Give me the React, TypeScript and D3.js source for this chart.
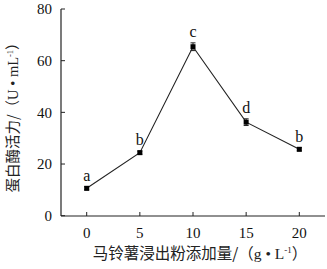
import React from "react";
import * as d3 from "d3";

const doses = [0, 5, 10, 15, 20];
const activity = [10.6, 24.4, 65.4, 36.2, 25.7];
const errors = [0.6, 0.6, 1.5, 1.3, 0.6];
const letters = ["a", "b", "c", "d", "b"];
const yTicks = [0, 20, 40, 60, 80];
const xTicks = [0, 5, 10, 15, 20];

const W = 327;
const H = 269;
const axisX = 61;
const axisY = 216;
const axisRight = 325;

const serif = "Liberation Serif, DejaVu Serif, serif";
const cjk = "Noto Sans CJK SC, sans-serif";

export default function App() {
  const x = d3.scaleLinear().domain([0, 20]).range([86.7, 299.3]);
  const y = d3.scaleLinear().domain([0, 80]).range([215.7, 9]);
  const line = d3
    .line<number>()
    .x((_, i) => x(doses[i]))
    .y((d) => y(d));
  const stroke = "#222";
  return (
    <svg
      width={W}
      height={H}
      style={{ position: "absolute", left: 0, top: 0, background: "#fff" }}
    >
      <line x1={axisX} y1={y(80)} x2={axisX} y2={axisY} stroke={stroke} strokeWidth={1.2} />
      <line x1={axisX} y1={axisY} x2={axisRight} y2={axisY} stroke={stroke} strokeWidth={1.2} />
      {yTicks.map((t) => (
        <g key={"y" + t}>
          <line x1={axisX} x2={axisX + 4} y1={y(t)} y2={y(t)} stroke={stroke} strokeWidth={1} />
          <text
            x={axisX - 9}
            y={y(t)}
            dy="0.35em"
            textAnchor="end"
            fontFamily={serif}
            fontSize={15}
            fill="#111"
          >
            {t}
          </text>
        </g>
      ))}
      {xTicks.map((t) => (
        <g key={"x" + t}>
          <line x1={x(t)} x2={x(t)} y1={axisY} y2={axisY - 4} stroke={stroke} strokeWidth={1} />
          <text
            x={x(t)}
            y={axisY + 17}
            dy="0.35em"
            textAnchor="middle"
            fontFamily={serif}
            fontSize={15}
            fill="#111"
          >
            {t}
          </text>
        </g>
      ))}
      <path d={line(activity) || ""} fill="none" stroke={stroke} strokeWidth={1.1} />
      {activity.map((v, i) => (
        <g key={"p" + i}>
          <line
            x1={x(doses[i])}
            x2={x(doses[i])}
            y1={y(v - errors[i])}
            y2={y(v + errors[i])}
            stroke={stroke}
            strokeWidth={1}
          />
          <line
            x1={x(doses[i]) - 2.5}
            x2={x(doses[i]) + 2.5}
            y1={y(v + errors[i])}
            y2={y(v + errors[i])}
            stroke={stroke}
            strokeWidth={1}
          />
          <line
            x1={x(doses[i]) - 2.5}
            x2={x(doses[i]) + 2.5}
            y1={y(v - errors[i])}
            y2={y(v - errors[i])}
            stroke={stroke}
            strokeWidth={1}
          />
          <rect x={x(doses[i]) - 2.5} y={y(v) - 2.5} width={5} height={5} fill="#000" />
          <text
            x={x(doses[i])}
            y={y(v + errors[i]) - 6}
            textAnchor="middle"
            fontFamily={serif}
            fontSize={16}
            fill="#111"
          >
            {letters[i]}
          </text>
        </g>
      ))}
      <text
        transform="translate(18,114) rotate(-90)"
        textAnchor="middle"
        fontFamily={cjk}
        fontSize={14.5}
        fill="#222"
      >
        蛋白酶活力/（
        <tspan fontFamily={serif}>U • mL</tspan>
        <tspan fontFamily={serif} fontSize={8.5} dy={-5.5}>-1</tspan>
        <tspan dy={5.5}>）</tspan>
      </text>
      <text
        x={200}
        y={259}
        textAnchor="middle"
        fontFamily={cjk}
        fontSize={15.5}
        fill="#222"
      >
        马铃薯浸出粉添加量/（
        <tspan fontFamily={serif}>g • L</tspan>
        <tspan fontFamily={serif} fontSize={9} dy={-6}>-1</tspan>
        <tspan dy={6}>）</tspan>
      </text>
    </svg>
  );
}
